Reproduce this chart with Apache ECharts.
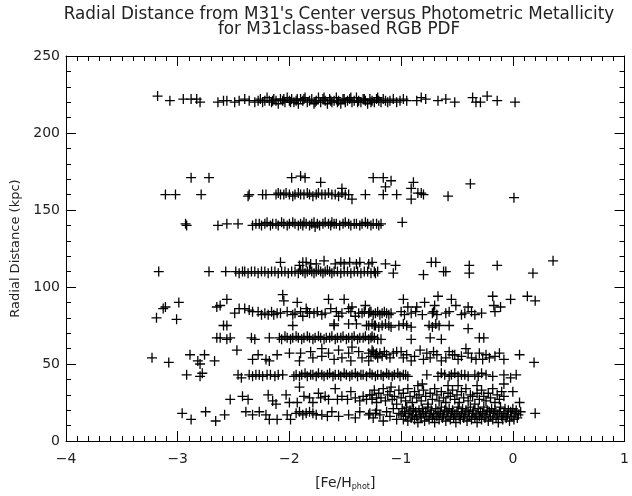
<!DOCTYPE html>
<html>
<head>
<meta charset="utf-8">
<script src="https://cdn.jsdelivr.net/npm/echarts@6/dist/echarts.min.js"></script>
<style>html,body{margin:0;padding:0;background:#fff}#c{width:632px;height:496px}</style>
</head>
<body>
<div id="c"></div>
<script>
var xTicks = [-4, -3, -2, -1, 0, 1];
var yTicks = [0, 50, 100, 150, 200, 250];

var band220 = [[-3.18,224],[-3.07,221],[-2.95,222],[-2.88,222],[-2.83,222],[-2.80,220],[-2.64,220],[-2.59,221],[-2.56,221],[-2.49,220],[-2.45,221],[-2.40,222],[-2.36,221],[-2.31,220],
[-2.28,221],[-2.26,222],[-2.24,220],[-2.22,221],[-2.20,223],[-2.18,221],[-2.16,220],[-2.14,222],[-2.12,221],[-2.10,219],[-2.08,222],[-2.06,221],[-2.04,220],[-2.02,223],[-2.00,221],[-1.98,222],[-1.96,220],[-1.94,221],[-1.92,219],[-1.90,222],[-1.88,221],[-1.86,223],[-1.84,220],[-1.82,221],[-1.80,222],[-1.78,219],[-1.76,221],[-1.74,223],[-1.72,220],[-1.70,222],[-1.68,221],[-1.66,219],[-1.64,222],[-1.62,220],[-1.60,221],[-1.58,223],[-1.56,221],[-1.54,219],[-1.52,222],[-1.50,220],[-1.48,221],[-1.46,222],[-1.44,220],[-1.42,221],[-1.40,223],[-1.38,221],[-1.36,220],[-1.34,222],[-1.32,221],[-1.30,219],[-1.28,222],[-1.26,221],[-1.24,220],[-1.22,222],[-1.20,221],[-1.18,220],[-1.16,222],[-1.14,221],[-1.12,220],[-1.10,221],[-1.07,222],[-1.04,220],[-1.01,221],[-0.98,222],[-0.95,221],
[-1.99,220],[-1.87,222],[-1.77,220],[-1.69,223],[-1.63,221],[-1.57,220],[-1.51,222],[-1.45,223],[-1.39,220],[-1.33,222],[-1.27,220],[-1.21,223],[-1.93,222],[-2.05,222],[-2.15,221],
[-0.86,221],[-0.82,223],[-0.78,222],[-0.67,221],[-0.60,222],[-0.52,220],[-0.36,223],[-0.33,220],[-0.29,220],[-0.23,224],[-0.14,221],[0.02,220]];

var band160 = [[-2.88,171],[-2.72,171],[-1.98,171],[-1.90,172],[-1.86,171],[-1.72,168],
[-3.11,160],[-3.02,160],[-2.79,160],[-2.37,159],[-2.36,160],[-2.24,160],[-2.21,160],
[-2.12,160],[-2.10,161],[-2.08,160],[-2.05,160],[-2.03,161],[-2.00,160],[-1.97,159],[-1.95,160],[-1.92,161],[-1.90,160],[-1.87,160],[-1.84,161],[-1.82,160],[-1.79,159],[-1.76,160],[-1.74,161],[-1.71,160],[-1.68,160],[-1.65,161],[-1.62,160],[-1.59,160],[-1.56,159],[-1.53,161],[-1.50,160],[-1.47,160],
[-1.53,164],[-1.44,157],[-1.32,160],[-1.25,171],[-1.16,171],[-1.09,169],[-1.14,165],[-1.16,160],[-1.04,160],[-0.89,168],[-0.91,164],[-0.91,157],[-0.85,161],[-0.82,161],[-0.80,160],[-0.58,159],[-0.38,167],[0.01,158]];

var band140 = [[-2.93,141],[-2.92,140],[-2.64,140],[-2.56,141],[-2.46,141],[-2.33,140],[-2.30,141],
[-2.27,141],[-2.25,140],[-2.22,141],[-2.20,142],[-2.17,140],[-2.15,141],[-2.12,141],[-2.10,140],[-2.07,142],[-2.05,141],[-2.02,140],[-2.00,141],[-1.97,142],[-1.95,141],[-1.92,140],[-1.90,141],[-1.87,142],[-1.85,141],[-1.82,140],[-1.80,141],[-1.78,142],[-1.75,141],[-1.73,140],[-1.70,141],[-1.68,142],[-1.65,141],[-1.63,140],[-1.60,141],[-1.58,141],[-1.55,140],[-1.52,141],[-1.50,142],[-1.47,141],[-1.45,140],[-1.42,141],[-1.40,141],[-1.37,140],[-1.35,141],[-1.32,142],[-1.30,141],[-1.27,140],[-1.25,141],[-1.22,141],[-1.20,140],[-1.18,141],
[-1.88,140],[-1.77,139],[-1.62,142],[-0.99,142]];

var band110 = [[-3.17,110],[-2.72,110],[-2.57,110],
[-2.48,110],[-2.45,109],[-2.42,110],[-2.40,110],[-2.37,109],[-2.34,110],[-2.31,110],[-2.28,109],[-2.25,110],[-2.22,110],[-2.19,109],[-2.16,110],[-2.13,110],[-2.10,109],[-2.07,110],[-2.04,110],[-2.01,109],[-1.98,110],[-1.95,110],[-1.92,109],[-1.90,111],[-1.88,110],[-1.86,109],[-1.84,110],[-1.82,111],[-1.80,110],[-1.78,109],[-1.76,110],[-1.74,111],[-1.72,110],[-1.70,109],[-1.68,110],[-1.66,111],[-1.64,110],[-1.62,109],[-1.60,110],[-1.57,110],[-1.54,109],[-1.51,110],[-1.48,110],[-1.45,109],[-1.42,110],[-1.39,110],[-1.36,109],[-1.33,110],[-1.30,110],[-1.27,109],[-1.24,110],[-1.21,110],
[-2.08,116],[-1.91,114],[-1.88,116],[-1.85,116],[-1.81,115],[-1.76,115],[-1.69,117],[-1.59,115],[-1.54,116],[-1.51,115],[-1.46,116],[-1.40,115],[-1.37,116],[-1.29,115],[-1.26,116],[-1.14,115],[-1.05,114],[-0.73,116],[-0.69,116],[-0.39,114],[-0.14,114],[0.36,117],
[-1.23,109],[-1.07,109],[-0.80,108],[-0.62,110],[-0.60,110],[-0.39,109],[0.18,109]];

var band85 = [[-3.19,80],[-3.13,86],[-3.11,87],[-2.99,90],[-3.01,79],[-2.65,87],[-2.62,88],[-2.56,92],[-2.59,75],[-2.56,75],[-2.49,83],[-2.45,86],[-2.40,86],[-2.36,85],[-2.33,84],[-2.25,82],[-2.19,82],[-2.14,82],[-2.08,83],[-2.06,95],[-2.05,91],[-1.97,82],[-1.97,75],[-1.93,90],[-1.88,81],[-1.85,86],[-1.84,84],[-1.82,83],[-1.71,82],[-1.65,92],[-1.63,86],[-1.60,76],[-1.60,75],[-1.56,81],[-1.51,92],[-1.47,86],[-1.47,76],[-1.44,87],[-1.41,81],[-1.40,76],[-1.35,83],[-1.32,88],[-1.31,75],[-1.28,84],[-1.24,75],[-1.23,83],
[-2.28,84],[-2.22,83],[-2.16,84],[-2.11,83],[-2.02,84],[-1.95,83],[-1.90,84],[-1.78,83],[-1.75,84],[-1.68,83],[-1.58,84],[-1.53,83],[-1.45,84],[-1.38,83],[-1.33,84],
[-0.98,92],[-0.94,87],[-0.86,87],[-0.79,90],[-0.70,88],[-0.67,94],[-0.55,92],[-0.51,88],[-0.40,87],[-0.18,94],[-0.17,88],[-0.11,87],[-0.02,92],[0.13,94],[0.20,91],
[-1.29,83],[-1.27,84],[-1.25,82],[-1.21,84],[-1.19,82],[-1.17,83],[-1.15,84],[-1.13,83],[-1.11,82],[-1.09,83],[-1.00,84],[-0.97,82],[-0.91,83],[-0.87,84],[-0.81,82],[-0.72,83],[-0.71,84],[-0.68,82],[-0.60,83],[-0.57,84],[-0.46,82],[-0.43,83],[-0.37,84],[-0.34,82],[-0.28,83],[-0.16,84],
[-1.29,75],[-1.26,76],[-1.23,75],[-1.20,74],[-1.17,75],[-1.14,76],[-1.11,75],[-1.09,74],[-1.02,75],[-0.98,76],[-0.95,75],[-0.91,74],[-0.75,75],[-0.72,74],[-0.69,76],[-0.66,75],[-0.57,75],[-0.40,73]];

var band68 = [[-2.65,67],[-2.62,67],[-2.56,66],[-2.53,67],[-2.34,67],[-2.31,66],[-2.18,67],
[-2.09,67],[-2.07,66],[-2.04,68],[-2.02,67],[-1.99,66],[-1.97,67],[-1.94,68],[-1.92,67],[-1.89,66],[-1.87,67],[-1.84,68],[-1.82,67],[-1.79,66],[-1.77,67],[-1.74,68],[-1.72,67],[-1.69,66],[-1.67,67],[-1.64,67],[-1.62,68],[-1.59,66],[-1.57,67],[-1.54,67],[-1.52,68],[-1.49,66],[-1.47,67],[-1.44,67],[-1.42,68],[-1.39,66],[-1.37,67],[-1.34,67],[-1.32,68],[-1.29,66],[-1.27,67],[-1.24,67],[-1.21,66],
[-1.26,68],[-1.18,66],[-0.91,66],[-0.74,67],[-0.64,66],[-0.30,67],[-0.26,67]];

var band57 = [[-3.23,54],[-3.08,51],[-2.89,56],[-2.80,50],[-2.82,52],[-2.76,56],[-2.67,52],[-2.47,59],[-2.33,53],[-2.28,56],[-2.21,53],[-2.18,52],[-2.11,56],[-2.00,57],[-1.91,52],[-1.90,57],[-1.81,58],[-1.79,54],[-1.71,60],[-1.71,55],[-1.65,57],[-1.60,53],[-1.56,59],[-1.53,54],[-1.47,57],[-1.45,52],[-1.44,61],[-1.38,58],[-1.35,54],[-1.29,52],[-1.26,59],[-1.22,57],
[-1.29,57],[-1.27,55],[-1.25,58],[-1.23,56],[-1.21,54],[-1.19,57],[-1.17,55],[-1.15,58],[-1.13,56],
[-1.07,57],[-1.00,58],[-0.98,54],[-0.91,52],[-0.83,59],[-0.77,57],[-0.74,54],[-0.71,58],[-0.64,52],[-0.60,54],[-0.54,56],[-0.49,53],[-0.42,60],[-0.40,57],[-0.37,54],[-0.33,53],[-0.27,53],[-0.21,54],[-0.12,57],[-0.08,53],[0.06,56],[0.19,51],
[-1.10,54],[-1.04,58],[-0.95,56],[-0.88,55],[-0.80,53],[-0.68,56],[-0.57,58],[-0.52,56],[-0.46,55],[-0.30,57],[-0.24,56],[-0.16,55]];

var band45 = [[-2.92,43],[-2.80,42],[-2.78,44],[-2.46,43],[-2.43,41],
[-2.36,43],[-2.33,42],[-2.30,43],[-2.27,43],[-2.24,42],[-2.20,43],[-2.17,43],[-2.13,42],[-2.10,43],[-2.06,43],[-1.96,42],
[-1.94,43],[-1.91,42],[-1.89,43],[-1.86,44],[-1.84,42],[-1.81,43],[-1.79,43],[-1.76,42],[-1.74,44],[-1.71,43],[-1.69,42],[-1.66,43],[-1.64,44],[-1.61,42],[-1.59,43],[-1.56,43],[-1.54,42],[-1.51,44],[-1.49,43],[-1.46,42],[-1.44,43],[-1.41,44],[-1.39,42],[-1.36,43],[-1.34,43],[-1.31,42],[-1.28,44],[-1.26,43],[-1.23,42],[-1.21,43],[-1.18,43],[-1.16,42],[-1.13,44],[-1.11,43],[-1.08,42],[-1.06,43],[-1.03,44],[-1.01,42],[-0.98,43],[-0.96,43],[-0.94,42],
[-0.77,43],[-0.67,42],[-0.64,44],[-0.61,43],[-0.57,42],[-0.55,43],[-0.52,44],[-0.49,42],[-0.46,43],[-0.43,43],[-0.40,42],[-0.34,43],[-0.31,42],[-0.28,44],[-0.24,43],[-0.18,42],[-0.08,43],[-0.02,41],[0.03,43]];

var band30 = [[-2.53,27],[-2.42,29],[-2.37,27],[-2.19,30],[-2.15,26],[-2.12,24],[-2.03,30],[-2.00,25],[-1.93,25],[-1.91,35],[-1.87,29],[-1.82,28],[-1.79,25],[-1.74,31],[-1.72,28],[-1.68,29],[-1.65,27],[-1.59,34],[-1.57,27],[-1.53,29],[-1.48,27],[-1.45,32],[-1.41,28],[-1.37,26],[-1.34,29],[-1.31,27],[-1.26,30],[-1.22,28],
[-1.28,30],[-1.26,27],[-1.24,33],[-1.22,25],[-1.20,31],[-1.18,28],[-1.16,34],[-1.14,26],[-1.12,30],[-1.10,32],[-1.08,27],[-1.06,29],[-1.04,24],[-1.02,33],[-1.00,28],[-0.98,31],[-0.96,26],[-0.94,34],[-0.92,29],[-0.90,25],[-0.88,32],[-0.86,28],[-0.84,30],[-0.82,26],[-0.80,33],[-0.78,29],[-0.76,24],[-0.74,31],[-0.72,27],[-0.70,34],[-0.68,30],[-0.66,26],[-0.64,32],[-0.62,28],[-0.60,25],[-0.58,31],[-0.56,29],[-0.54,33],[-0.52,27],[-0.50,30],[-0.48,25],[-0.46,32],[-0.44,28],[-0.42,34],[-0.40,26],[-0.38,30],[-0.36,29],[-0.34,24],[-0.32,31],[-0.30,27],[-0.28,33],[-0.26,29],[-0.24,26],[-0.22,31],[-0.20,28],[-0.18,34],[-0.16,25],[-0.14,30],[-0.12,27],[-0.10,32],[-0.08,29],
[-1.09,35],[-0.85,36],[-0.81,37],[-0.58,36],[-0.49,36],[-0.32,36],[-0.08,37],[0.00,32],[0.06,25]];

var band20 = [[-2.96,18],[-2.88,14],[-2.75,19],[-2.66,13],[-2.58,17],[-2.39,19],[-2.33,17],[-2.27,19],[-2.21,17],[-2.18,14],[-2.11,14],[-2.02,17],[-1.99,14],
[-1.94,18],[-1.91,19],[-1.88,17],[-1.85,18],[-1.82,19],[-1.79,18],[-1.76,17],
[-1.71,17],[-1.66,16],[-1.62,19],[-1.56,16],[-1.47,17],[-1.41,15],[-1.37,19],[-1.29,17],[-1.23,18],
[-1.28,18],[-1.25,15],[-1.22,20],[-1.19,17],[-1.16,13],[-1.13,19],[-1.10,16],[-1.07,21],[-1.04,14],[-1.02,18],
[-1.00,17],[-0.99,21],[-0.98,14],[-0.97,19],[-0.96,16],[-0.95,22],[-0.94,13],[-0.93,18],[-0.92,20],[-0.91,15],[-0.90,17],[-0.89,21],[-0.88,14],[-0.87,19],[-0.86,16],[-0.85,12],[-0.84,20],[-0.83,17],[-0.82,15],[-0.81,21],[-0.80,18],[-0.79,13],[-0.78,19],[-0.77,16],[-0.76,22],[-0.75,14],[-0.74,18],[-0.73,20],[-0.72,15],[-0.71,17],[-0.70,12],[-0.69,21],[-0.68,16],[-0.67,19],[-0.66,14],[-0.65,18],[-0.64,22],[-0.63,15],[-0.62,17],[-0.61,20],[-0.60,13],[-0.59,19],[-0.58,16],[-0.57,21],[-0.56,14],[-0.55,18],[-0.54,20],[-0.53,15],[-0.52,17],[-0.51,12],[-0.50,19],[-0.49,22],[-0.48,16],[-0.47,14],[-0.46,18],[-0.45,21],[-0.44,15],[-0.43,17],[-0.42,20],[-0.41,13],[-0.40,19],[-0.39,16],[-0.38,22],[-0.37,14],[-0.36,18],[-0.35,20],[-0.34,15],[-0.33,17],[-0.32,12],[-0.31,21],[-0.30,16],[-0.29,19],[-0.28,14],[-0.27,18],[-0.26,22],[-0.25,15],[-0.24,17],[-0.23,20],[-0.22,13],[-0.21,19],[-0.20,16],[-0.19,21],[-0.18,14],[-0.17,18],[-0.16,20],[-0.15,15],[-0.14,17],[-0.13,12],[-0.12,19],[-0.11,22],[-0.10,16],[-0.09,14],[-0.08,18],[-0.07,21],[-0.06,15],[-0.05,17],[-0.04,20],[-0.03,13],[-0.02,19],[-0.01,16],[0.00,21],[0.01,14],[0.02,18],[0.03,20],[0.04,15],[0.05,17],[0.07,19],[0.20,18]];

var FONT = 'DejaVu Sans';
var allPoints = [].concat(band220, band160, band140, band110, band85, band68, band57, band45, band30, band20);

function mkX(pos, showLabel) {
  return {
    type: 'value', position: pos, min: xTicks[0], max: xTicks[xTicks.length-1], interval: 1,
    axisLine: {show: true, onZero: false, lineStyle: {color: '#000', width: 1}},
    axisTick: {show: true, inside: true, length: 10, lineStyle: {color: '#000'}},
    minorTick: {show: true, splitNumber: 10, length: 5, lineStyle: {color: '#000'}},
    splitLine: {show: false},
    axisLabel: {show: showLabel, margin: 11, color: '#222', fontSize: 14, fontFamily: FONT,
      formatter: function (v) { return String(v).replace('-', '\u2212'); }},
    name: showLabel ? '{n|[Fe/H}{s|phot}{n|]}' : '',
    nameLocation: 'middle', nameGap: 34,
    nameTextStyle: {color: '#222', fontFamily: FONT, rich: {
      n: {fontSize: 14, fontFamily: FONT, color: '#222'},
      s: {fontSize: 8, fontFamily: FONT, color: '#222', padding: [8, 0, 0, 0]}
    }}
  };
}
function mkY(pos, showLabel) {
  return {
    type: 'value', position: pos, min: yTicks[0], max: yTicks[yTicks.length-1], interval: 50,
    axisLine: {show: true, onZero: false, lineStyle: {color: '#000', width: 1}},
    axisTick: {show: true, inside: true, length: 10, lineStyle: {color: '#000'}},
    minorTick: {show: true, splitNumber: 5, length: 5, lineStyle: {color: '#000'}},
    splitLine: {show: false},
    axisLabel: {show: showLabel, margin: 6, color: '#222', fontSize: 14, fontFamily: FONT},
    name: showLabel ? 'Radial Distance (kpc)' : '',
    nameLocation: 'middle', nameGap: 37,
    nameTextStyle: {color: '#222', fontFamily: FONT, fontSize: 13}
  };
}

var chart = echarts.init(document.getElementById('c'), null, {renderer: 'canvas'});
chart.setOption({
  animation: false,
  backgroundColor: '#fff',
  title: {
    text: "Radial Distance from M31's Center versus Photometric Metallicity\nfor M31class-based RGB PDF",
    left: 334, top: 2, textAlign: 'center',
    textStyle: {fontFamily: FONT, fontSize: 16.8, fontWeight: 'normal', color: '#222', lineHeight: 15}
  },
  grid: {left: 66, right: 5, top: 56, bottom: 48},
  xAxis: [mkX('bottom', true), mkX('top', false)],
  yAxis: [mkY('left', true), mkY('right', false)],
  series: [{
    type: 'scatter', xAxisIndex: 0, yAxisIndex: 0,
    symbol: 'path://M0,4.35H10V5.65H0ZM4.35,0H5.65V10H4.35Z',
    symbolSize: 10,
    itemStyle: {color: '#000', opacity: 1},
    data: allPoints
  }]
});
</script>
</body>
</html>
